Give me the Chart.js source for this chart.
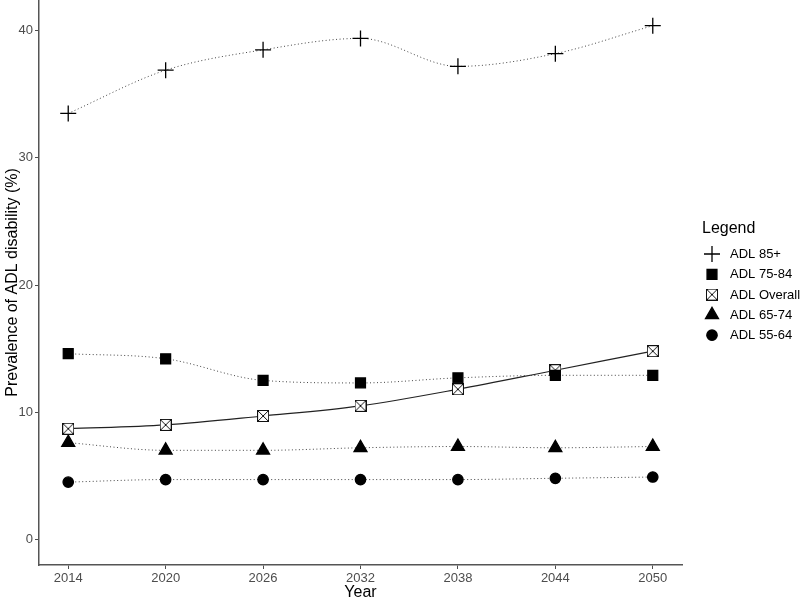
<!DOCTYPE html>
<html>
<head>
<meta charset="utf-8">
<script src="https://cdn.jsdelivr.net/npm/chart.js@4.4.1/dist/chart.umd.min.js"></script>
<style>
  html, body { margin: 0; padding: 0; background: #fff; }
  #wrap { width: 800px; height: 602px; position: relative; }
</style>
</head>
<body>
<div id="wrap"><canvas id="chart"></canvas></div>
<script>
// data
const years = [2014, 2020, 2026, 2032, 2038, 2044, 2050];
const adl85 = [33.5, 36.9, 38.5, 39.4, 37.2, 38.2, 40.4];
const adl7584 = [14.6, 14.2, 12.5, 12.3, 12.7, 12.9, 12.9];
const adlOverall = [8.7, 9.0, 9.7, 10.5, 11.8, 13.3, 14.8];
const adl6574 = [7.6, 7.0, 7.0, 7.2, 7.3, 7.2, 7.3];
const adl5564 = [4.5, 4.7, 4.7, 4.7, 4.7, 4.8, 4.9];
const seriesLabels = ['ADL 85+', 'ADL 75-84', 'ADL Overall', 'ADL 65-74', 'ADL 55-64'];
const xTicks = years;
const yTicks = [0, 10, 20, 30, 40];
const legendTitle = 'Legend';

const FONT = '"Liberation Sans", Arial, sans-serif';

// open square with an X, for the overall series
function crossBox() {
  const c = document.createElement('canvas');
  c.width = 12; c.height = 12;
  const g = c.getContext('2d');
  g.fillStyle = '#fff';
  g.fillRect(0, 0, 12, 12);
  g.strokeStyle = '#111';
  g.lineWidth = 1;
  g.strokeRect(0.5, 0.5, 11, 11);
  g.beginPath();
  g.moveTo(1, 1); g.lineTo(11, 11);
  g.moveTo(11, 1); g.lineTo(1, 11);
  g.stroke();
  return c;
}

const toPoints = vals => vals.map((v, i) => ({ x: years[i], y: v }));

function series(label, vals, style, radius, solid) {
  return {
    label: label,
    data: toPoints(vals),
    borderColor: solid ? '#222' : '#444',
    borderWidth: solid ? 1.2 : 1,
    borderDash: solid ? [] : [1, 2.5],
    cubicInterpolationMode: 'monotone',
    fill: false,
    pointStyle: style,
    pointRadius: radius,
    pointHoverRadius: radius,
    pointBackgroundColor: '#000',
    pointBorderColor: '#000',
    pointBorderWidth: 1.3
  };
}

const datasets = [
  series(seriesLabels[0], adl85, 'cross', 8, false),
  series(seriesLabels[1], adl7584, 'rect', 7, false),
  series(seriesLabels[2], adlOverall, crossBox(), 6, true),
  series(seriesLabels[3], adl6574, 'triangle', 7.5, false),
  series(seriesLabels[4], adl5564, 'circle', 5.2, false)
];

const sideLegend = {
  id: 'sideLegend',
  afterDraw(chart) {
    const ctx = chart.ctx;
    ctx.save();
    ctx.textBaseline = 'middle';
    ctx.textAlign = 'left';
    ctx.fillStyle = '#000';
    ctx.font = '16px ' + FONT;
    ctx.fillText(legendTitle, 702, 229);
    chart.data.datasets.forEach((ds, i) => {
      const y = 254 + i * 20.3;
      ctx.setLineDash([]);
      ctx.strokeStyle = ds.pointBorderColor;
      ctx.fillStyle = ds.pointBackgroundColor;
      ctx.lineWidth = ds.pointBorderWidth;
      Chart.helpers.drawPoint(ctx, {
        pointStyle: ds.pointStyle,
        radius: ds.pointRadius,
        rotation: 0,
        borderWidth: ds.pointBorderWidth
      }, 712, y);
      ctx.fillStyle = '#000';
      ctx.font = '13px ' + FONT;
      ctx.fillText(ds.label, 730, y + 0.5);
    });
    ctx.restore();
  }
};

const axisColor = '#555';
const tickColor = '#4d4d4d';

function noPad(s) {
  s.paddingTop = 0; s.paddingBottom = 0;
  s.paddingLeft = 0; s.paddingRight = 0;
}

new Chart(document.getElementById('chart'), {
  type: 'line',
  data: { datasets: datasets },
  plugins: [sideLegend],
  options: {
    responsive: true,
    maintainAspectRatio: false,
    animation: false,
    layout: { autoPadding: false, padding: { left: 0, top: 0, right: 118, bottom: 0 } },
    plugins: {
      legend: { display: false },
      tooltip: { enabled: false }
    },
    scales: {
      x: {
        type: 'linear',
        min: 2012.2,
        max: 2051.8,
        afterBuildTicks: s => { s.ticks = xTicks.map(v => ({ value: v })); },
        afterFit: s => { s.height = 37; noPad(s); },
        ticks: {
          color: tickColor,
          font: { family: FONT, size: 13 },
          padding: 2,
          maxRotation: 0,
          autoSkip: false,
          callback: v => String(v)
        },
        grid: { drawOnChartArea: false, drawTicks: true, tickLength: 4, color: tickColor, lineWidth: 1 },
        border: { color: axisColor, width: 1.5 },
        title: {
          display: true,
          text: 'Year',
          color: '#000',
          font: { family: FONT, size: 16 },
          padding: { top: 0, bottom: 0 }
        }
      },
      y: {
        type: 'linear',
        min: -2.02,
        max: 42.42,
        afterBuildTicks: s => { s.ticks = yTicks.map(v => ({ value: v })); },
        afterFit: s => { s.width = 39; noPad(s); },
        ticks: {
          color: tickColor,
          font: { family: FONT, size: 13 },
          padding: 2,
          callback: v => String(v)
        },
        grid: { drawOnChartArea: false, drawTicks: true, tickLength: 4, color: tickColor, lineWidth: 1 },
        border: { color: axisColor, width: 1.5 },
        title: {
          display: true,
          text: 'Prevalence of ADL disability (%)',
          color: '#000',
          font: { family: FONT, size: 16 },
          padding: { top: 3, bottom: 0 }
        }
      }
    }
  }
});
</script>
</body>
</html>
